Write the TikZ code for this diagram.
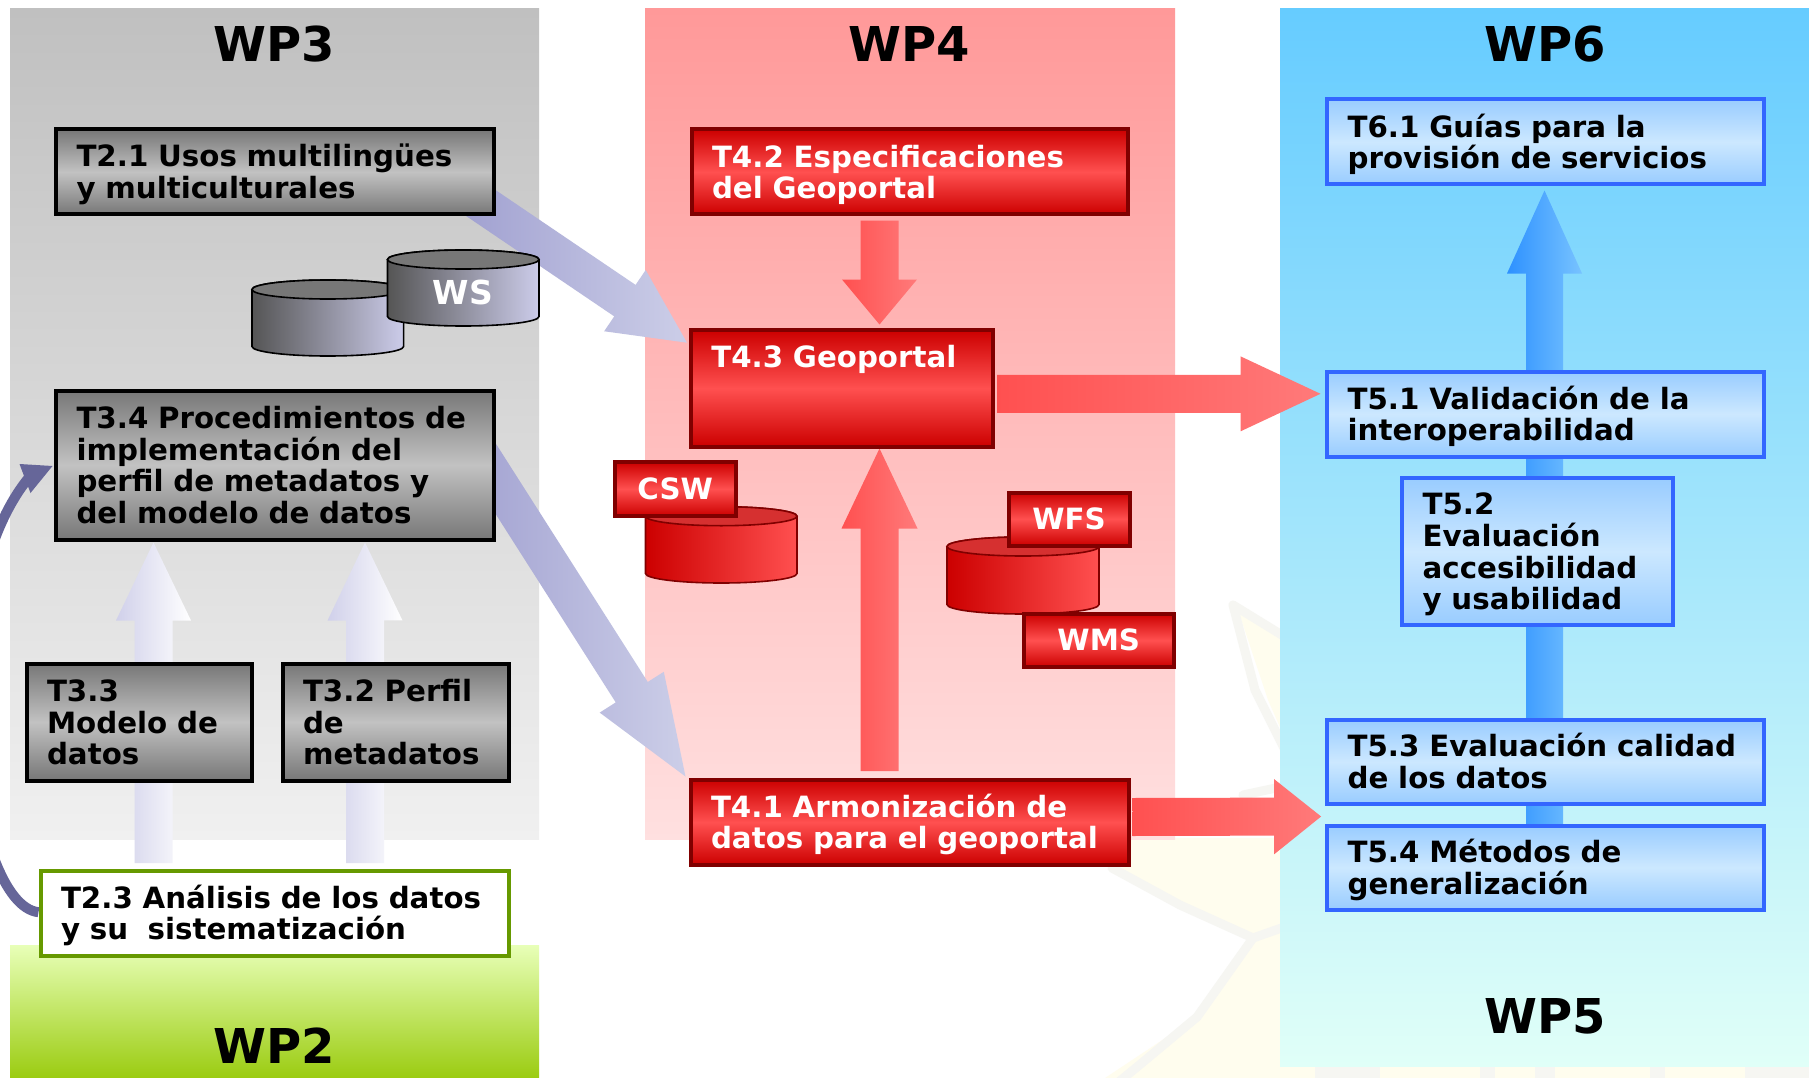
\documentclass[tikz,border=0pt]{standalone}
\usepackage{fontspec}
\setmainfont{DejaVu Sans}
\usetikzlibrary{calc}
\pgfdeclarelayer{front}\pgfsetlayers{main,front}
\definecolor{grayD}{HTML}{777777}\definecolor{grayM}{HTML}{C2C2C2}
\definecolor{redD}{HTML}{CC0000}\definecolor{redM}{HTML}{FF5050}\definecolor{redB}{HTML}{800000}\definecolor{redR}{HTML}{FF7A7A}\definecolor{redC}{HTML}{D63030}
\definecolor{bluD}{HTML}{99CCFF}\definecolor{bluM}{HTML}{CCE8FF}\definecolor{bluB}{HTML}{3366FF}
\definecolor{grnB}{HTML}{669900}\definecolor{curv}{HTML}{666699}
\definecolor{lavL}{HTML}{A0A0D0}\definecolor{lavR}{HTML}{CCCEE8}\definecolor{paleL}{HTML}{D0D0EA}
\definecolor{blaL}{HTML}{2D91FF}\definecolor{blaR}{HTML}{78C3FF}
\definecolor{cylL}{HTML}{555555}\definecolor{cylR}{HTML}{CCCCEA}
\definecolor{pnlGa}{HTML}{C0C0C0}\definecolor{pnlGb}{HTML}{F0F0F0}
\definecolor{pnlRa}{HTML}{FF9999}\definecolor{pnlRb}{HTML}{FFE0E0}
\definecolor{pnlBa}{HTML}{66CCFF}\definecolor{pnlBb}{HTML}{E0FFF8}
\definecolor{pnlVa}{HTML}{E8FFB8}\definecolor{pnlVm}{HTML}{D4EC92}\definecolor{pnlVb}{HTML}{9BCC11}
\definecolor{wmY}{HTML}{FFFDEE}\definecolor{wmG}{HTML}{F6F6F2}
\tikzset{
 every node/.style={font=\fontsize{29.3}{31.7}\selectfont\bfseries},
 wp/.style={font=\fontsize{48}{52}\selectfont\bfseries,text=black},
 tasktext/.style={line width=4pt,align=left,inner sep=0pt},
 taskgray/.style={tasktext,draw=black,top color=grayD,bottom color=grayD,middle color=grayM,text=black},
 taskred/.style={tasktext,draw=redB,top color=redD,bottom color=redD,middle color=redM,text=white},
 taskblue/.style={tasktext,draw=bluB,top color=bluD,bottom color=bluD,middle color=bluM,text=black},
 taskwhite/.style={tasktext,draw=grnB,fill=white,text=black},
 lightarrow/.style={left color=paleL,right color=white},
 lavarrow/.style={left color=lavL,right color=lavR},
 redarrow/.style={left color=redM,right color=redR},
 bluearrow/.style={left color=blaL,right color=blaR},
 wmband/.style={draw=wmG,line width=9pt,line cap=round,line join=round},
}
\newcommand{\taskbox}[7]{%
 \pgfmathsetmacro{\boxw}{#5-#3-3}\pgfmathsetmacro{\boxh}{#6-#4-3}\pgfmathsetmacro{\txtw}{#5-#3-44}%
 \node[#2,minimum width=\boxw pt,minimum height=\boxh pt,text width=\txtw pt] (#1) at ({(#3+#5)/2},{(#4+#6)/2}) {\rule{0pt}{28pt}#7\rule[-6pt]{0pt}{0pt}};}
\newcommand{\labbox}[7]{%
 \pgfmathsetmacro{\boxw}{#5-#3-3}\pgfmathsetmacro{\boxh}{#6-#4-3}%
 \node[#2,minimum width=\boxw pt,minimum height=\boxh pt,align=center] (#1) at ({(#3+#5)/2},{(#4+#6)/2}) {\raisebox{-1.5pt}{#7}};}
\newcommand{\blockarrow}[6]{%
 \coordinate (hb) at ($(#3)!#6pt!(#2)$);
 \path[#1] ($(#2)!#4pt!90:(#3)$) -- ($(hb)!#4pt!90:(#3)$) -- ($(hb)!#5pt!90:(#3)$) -- (#3)
   -- ($(hb)!#5pt!-90:(#3)$) -- ($(hb)!#4pt!-90:(#3)$) -- ($(#2)!#4pt!-90:(#3)$) -- cycle;}
\newcommand{\cyl}[8]{%
 \path[draw=#8,line width=1.6pt,left color=#5,right color=#6]
   (#1,#3+9.5) -- (#1,#4-9.5) arc[start angle=180,end angle=0,x radius={(#2-#1)/2},y radius=9.5] -- (#2,#3+9.5)
   arc[start angle=0,end angle=-180,x radius={(#2-#1)/2},y radius=9.5] -- cycle;
 \path[draw=#8,line width=1.6pt,fill=#7] ({(#1+#2)/2},#3+9.5) ellipse[x radius={(#2-#1)/2},y radius=9.5];}
\begin{document}
\begin{tikzpicture}[x=1pt,y=-1pt]
\useasboundingbox (0,0) rectangle (1809,1078);
\clip (0,0) rectangle (1809,1078);
\fill[white] (0,0) rectangle (1809,1078);
% faint watermark behind the panels
\fill[wmY] (1130,838) -- (1290,838) -- (1290,1078) -- (1105,1078) -- (1197,1017) -- (1253,940) -- (1120,873) -- cycle;
\fill[wmY] (1809,1066) rectangle (1280,1078);
\fill[wmY] (1238,610) -- (1290,635) -- (1290,750) -- (1268,700) -- cycle;
\draw[wmband] (1112,868) -- (1180,905) -- (1253,938) -- (1290,925);
\draw[wmband] (1253,938) -- (1197,1017) -- (1137,1067) -- (1115,1085);
\draw[wmband] (1290,640) -- (1233,605) -- (1255,690) -- (1290,760);
\draw[wmband] (1243,795) -- (1290,785);
\foreach \xa/\xb in {1315/1380,1480/1495,1535/1555,1650/1665,1745/1809}{\fill[wmG] (\xa,1067) rectangle (\xb,1078);}
% panels
\shade[top color=pnlGa,bottom color=pnlGb] (10,9) rectangle (539,839);
\shade[top color=pnlRa,bottom color=pnlRb] (645,9) rectangle (1175,839);
\shade[top color=pnlBa,bottom color=pnlBb] (1280,9) rectangle (1809,1066);
\shade[top color=pnlVa,middle color=pnlVm,bottom color=pnlVb] (10,945) rectangle (539,1078);
\node[wp] (wp3) at (274.6,44) {WP3};
\node[wp] (wp4) at (909,44) {WP4};
\node[wp] (wp6) at (1545,44) {WP6};
\node[wp] (wp5) at (1545,1016) {WP5};
\node[wp] (wp2) at (274.6,1046) {WP2};
\begin{pgfonlayer}{front}
\taskbox{T21}{taskgray}{54.5}{128}{495.5}{216}{T2.1 Usos multilingües\\y multiculturales}
\taskbox{T34}{taskgray}{54.5}{389}{495.5}{541}{T3.4 Procedimientos de\\implementación del\\perfil de metadatos y\\del modelo de datos}
\taskbox{T33}{taskgray}{25}{662}{253.6}{782}{T3.3\\Modelo de\\datos}
\taskbox{T32}{taskgray}{281}{662}{510}{782}{T3.2 Perfil\\de\\metadatos}
\taskbox{T23}{taskwhite}{39}{869.4}{510}{957}{T2.3 Análisis de los datos\\y su\ \ sistematización}
\taskbox{T42}{taskred}{690}{128}{1129.5}{216}{T4.2 Especificaciones\\del Geoportal}
\taskbox{T43}{taskred}{689.3}{328.7}{994.6}{448}{T4.3 Geoportal\\\mbox{}\\\mbox{}}
\taskbox{T41}{taskred}{689}{778}{1130}{866.4}{T4.1 Armonización de\\datos para el geoportal}
\taskbox{T61}{taskblue}{1325.6}{98}{1765}{186}{T6.1 Guías para la\\provisión de servicios}
\taskbox{T51}{taskblue}{1325.6}{370}{1765}{458}{T5.1 Validación de la\\interoperabilidad}
\taskbox{T52}{taskblue}{1400.6}{476.5}{1674}{626.5}{T5.2\\Evaluación\\accesibilidad\\y usabilidad}
\taskbox{T53}{taskblue}{1325.6}{718}{1765}{805.6}{T5.3 Evaluación calidad\\de los datos}
\taskbox{T54}{taskblue}{1325.6}{824}{1765}{911}{T5.4 Métodos de\\generalización}
\end{pgfonlayer}
\coordinate (a1s) at ($(T21.south east)+(-27,-21.5)$);
\coordinate (a1e) at ($(T43.north west)+(-1.8,14.5)$);
\blockarrow{lavarrow}{a1s}{a1e}{19}{37}{75}
\coordinate (a2s) at ($(T34.east)+(-25,-25)$);
\coordinate (a2e) at ($(T41.north west)+(-3,-1)$);
\blockarrow{lavarrow}{a2s}{a2e}{19}{38}{100}
\coordinate (a3s) at ($(T23.north west)+(115,-5.8)$);
\coordinate (a3e) at ($(T34.south west)+(99.5,1)$);
\blockarrow{lightarrow}{a3s}{a3e}{19}{37.5}{78}
\coordinate (a4s) at ($(T23.north west)+(326.6,-5.8)$);
\coordinate (a4e) at ($(T34.south west)+(311,1)$);
\blockarrow{lightarrow}{a4s}{a4e}{19}{37.5}{78}
\coordinate (a5s) at ($(T42.south west)+(190,4)$);
\coordinate (a5e) at ($(T43.north west)+(190.7,-3.7)$);
\blockarrow{redarrow}{a5s}{a5e}{19}{37.5}{45}
\coordinate (a6s) at ($(T41.north west)+(191,-6.5)$);
\coordinate (a6e) at ($(T43.south west)+(190.7,0)$);
\blockarrow{redarrow}{a6s}{a6e}{19}{38}{80}
\coordinate (a7s) at ($(T43.east)+(2,5.6)$);
\coordinate (a7e) at ($(T51.west)+(-4.6,-20.2)$);
\blockarrow{redarrow}{a7s}{a7e}{19}{37.5}{80}
\coordinate (a8s) at ($(T41.east)+(2,-5.2)$);
\coordinate (a8e) at ($(T54.north west)+(-4,-7)$);
\blockarrow{redarrow}{a8s}{a8e}{19}{37.6}{47}
\coordinate (a9s) at ($(T54.north west)+(219.4,2)$);
\coordinate (a9e) at ($(T61.south west)+(219.4,4)$);
\blockarrow{bluearrow}{a9s}{a9e}{18.5}{37.5}{83}
\coordinate (c1) at ($(T23.west)+(0,-1)$);
\coordinate (c2) at ($(T34.west)+(-1.5,1)$);
\draw[curv,line width=10pt] (c1) .. controls (-30,905) and (-70,600) .. ($(c2)+(-24,12)$);
\fill[curv] (c2) -- ++(-33,-2) -- ++(11,29) -- cycle;
\cyl{252}{403.6}{280}{356}{cylL}{cylR}{grayD}{black}
\cyl{387.5}{539}{250}{326}{cylL}{cylR}{grayD}{black}
\node[text=white,font=\fontsize{33}{36}\selectfont\bfseries] (ws) at (463,292) {WS};
\cyl{645.5}{797}{506.7}{583}{redD}{redM}{redC}{redB}
\cyl{947}{1099}{537}{614}{redD}{redM}{redC}{redB}
\labbox{csw}{taskred}{613.4}{460.7}{737}{517.4}{CSW}
\labbox{wfs}{taskred}{1007}{491}{1131}{547}{WFS}
\labbox{wms}{taskred}{1022}{612}{1175.5}{668.5}{WMS}
\end{tikzpicture}
\end{document}
